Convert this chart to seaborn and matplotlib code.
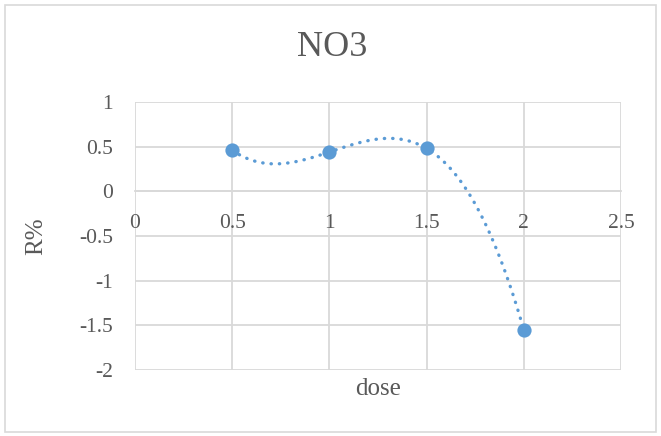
import numpy as np
import pandas as pd
import matplotlib
matplotlib.use("Agg")
import matplotlib.pyplot as plt
import seaborn as sns
from matplotlib.patches import Rectangle

# Data
dose = [0.5, 1.0, 1.5, 2.0]
r_pct = [0.46, 0.44, 0.48, -1.55]
x_ticks = [0, 0.5, 1, 1.5, 2, 2.5]
x_tick_labels = ["0", "0.5", "1", "1.5", "2", "2.5"]
y_ticks = [1, 0.5, 0, -0.5, -1, -1.5, -2]
y_tick_labels = ["1", "0.5", "0", "-0.5", "-1", "-1.5", "-2"]
title = "NO3"
x_label = "dose"
y_label = "R%"

sns.set_theme(style="white")
plt.rcParams["font.family"] = ["Liberation Serif", "DejaVu Serif"]

TEXT = "#595959"
GRID = "#d9d9d9"
BLUE = "#5b9bd5"

fig = plt.figure(figsize=(6.61, 4.36), dpi=100)
fig.patch.set_facecolor("white")
fig.patches.append(Rectangle((5 / 661, 4 / 436), 651 / 661, 427 / 436,
                             transform=fig.transFigure, fill=False,
                             edgecolor=GRID, linewidth=1.2))

ax = fig.add_axes([135 / 661, 1 - 370 / 436, 486 / 661, 268 / 436])

df = pd.DataFrame({"dose": dose, "R": r_pct})

# Polynomial (order 3) trendline, as in the original chart
coef = np.polyfit(dose, r_pct, 3)
xs = np.linspace(min(dose), max(dose), 300)
trend = pd.DataFrame({"dose": xs, "R": np.polyval(coef, xs)})

sns.lineplot(data=trend, x="dose", y="R", ax=ax, color=BLUE, linewidth=2.4,
             linestyle=(0, (0.1, 2.4)), dash_capstyle="round", zorder=3)
sns.scatterplot(data=df, x="dose", y="R", ax=ax, color=BLUE, s=105,
                edgecolor=BLUE, linewidth=0, zorder=4)

ax.set_xlim(0, 2.5)
ax.set_ylim(-2, 1)
ax.set_xticks(x_ticks)
ax.set_xticklabels(x_tick_labels)
ax.set_yticks(y_ticks)
ax.set_yticklabels(y_tick_labels)
ax.grid(True, color=GRID, linewidth=1.3)
ax.set_axisbelow(True)
for s in ax.spines.values():
    s.set_visible(False)
# x axis at y = 0
ax.spines["bottom"].set_visible(True)
ax.spines["bottom"].set_position(("data", 0))
ax.spines["bottom"].set_color(GRID)
ax.spines["bottom"].set_linewidth(1.3)

ax.tick_params(axis="x", length=0, pad=16, labelsize=15.5, labelcolor=TEXT)
ax.tick_params(axis="y", length=0, pad=16, labelsize=15.5, labelcolor=TEXT)

ax.set_xlabel("")
ax.set_ylabel("")
fig.text(378 / 661, 1 - 389 / 436, x_label, ha="center", va="center",
         fontsize=18, color=TEXT)
fig.text(36 / 661, 1 - 236 / 436, y_label, ha="center", va="center",
         fontsize=18, color=TEXT, rotation=90)
fig.text(332 / 661, 1 - 48 / 436, title, ha="center", va="center",
         fontsize=26, color=TEXT)

fig.savefig("out.png", dpi=100, facecolor="white")
